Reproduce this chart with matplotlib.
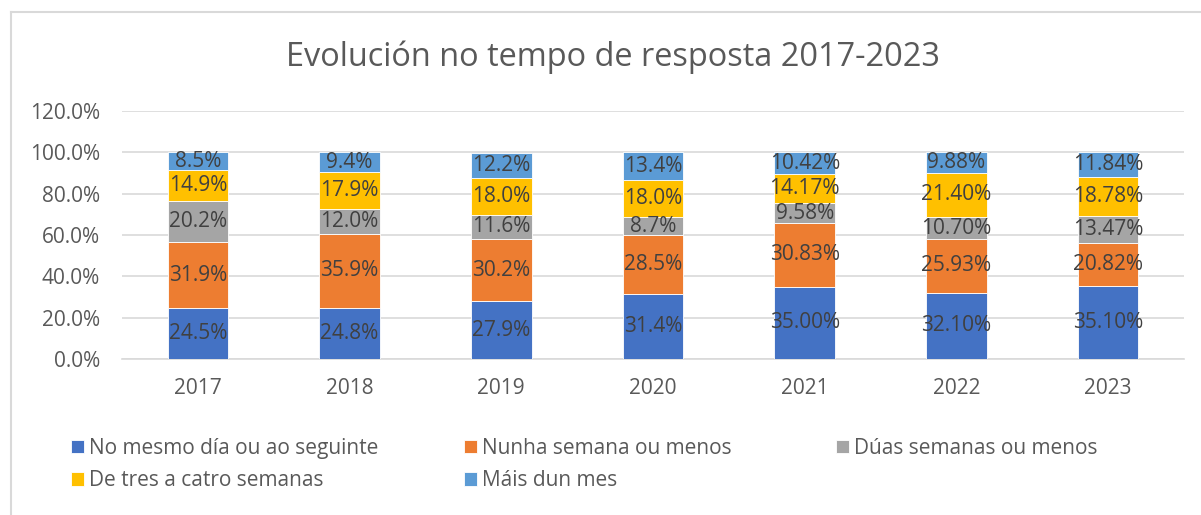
import matplotlib
matplotlib.use('Agg')
import matplotlib.pyplot as plt
from matplotlib.lines import Line2D
import numpy as np

# ---- data ----
years = ['2017', '2018', '2019', '2020', '2021', '2022', '2023']
series_names = ['No mesmo día ou ao seguinte', 'Nunha semana ou menos',
                'Dúas semanas ou menos', 'De tres a catro semanas', 'Máis dun mes']
no_mesmo_dia = [24.5, 24.8, 27.9, 31.4, 35.00, 32.10, 35.10]
nunha_semana = [31.9, 35.9, 30.2, 28.5, 30.83, 25.93, 20.82]
duas_semanas = [20.2, 12.0, 11.6, 8.7, 9.58, 10.70, 13.47]
tres_catro_semanas = [14.9, 17.9, 18.0, 18.0, 14.17, 21.40, 18.78]
mais_dun_mes = [8.5, 9.4, 12.2, 13.4, 10.42, 9.88, 11.84]
label_decimals = [1, 1, 1, 1, 2, 2, 2]
yticks = [0, 20, 40, 60, 80, 100, 120]
title = 'Evolución no tempo de resposta 2017-2023'

series_values = [no_mesmo_dia, nunha_semana, duas_semanas, tres_catro_semanas, mais_dun_mes]
colors = ['#4472C4', '#ED7D31', '#A5A5A5', '#FFC000', '#5B9BD5']

plt.rcParams['font.family'] = ['Open Sans', 'DejaVu Sans']

W, H = 1201, 515
fig = plt.figure(figsize=(W / 100, H / 100), dpi=100)
ax = fig.add_axes([122 / W, (H - 359) / H, (1184 - 122) / W, (359 - 111) / H])

x = np.arange(len(years))
bottom = np.zeros(len(years))
handles = []
for vals, name, col in zip(series_values, series_names, colors):
    bars = ax.bar(x, vals, 0.4, bottom=bottom, color=col, edgecolor='white',
                  linewidth=0.6, label=name, zorder=3)
    labels = [f"{v:.{d}f}%" for v, d in zip(vals, label_decimals)]
    ax.bar_label(bars, labels=labels, label_type='center', fontsize=15,
                 color='#404040', zorder=4)
    bottom = bottom + np.array(vals)
    handles.append(bars)

ax.set_xlim(-0.5, len(years) - 0.5)
ax.set_ylim(0, 120)
ax.set_yticks(yticks)
ax.set_yticklabels([f"{t:.1f}%" for t in yticks])
ax.set_xticks(x)
ax.set_xticklabels(years)
ax.yaxis.grid(True, color='#D9D9D9', linewidth=1.2, zorder=0)
ax.set_axisbelow(True)
for s in ['top', 'right', 'left']:
    ax.spines[s].set_visible(False)
ax.spines['bottom'].set_color('#D9D9D9')
ax.spines['bottom'].set_linewidth(1.2)
ax.tick_params(axis='both', length=0, labelsize=15, labelcolor='#595959')
ax.tick_params(axis='y', pad=16)
ax.tick_params(axis='x', pad=14)

fig.text(613 / W, 1 - 57 / H, title, ha='center', va='center', fontsize=23.4,
         color='#595959')

# chart area border
fig.add_artist(Line2D([11 / W, 11 / W], [1 - 12 / H, 0], transform=fig.transFigure,
                      color='#D9D9D9', linewidth=1.5))
fig.add_artist(Line2D([11 / W, 1], [1 - 12 / H, 1 - 12 / H], transform=fig.transFigure,
                      color='#D9D9D9', linewidth=1.5))

# legend, three columns placed like the reference
cols = [([0, 3], 71), ([1, 4], 464), ([2], 836)]
for idx, xpx in cols:
    leg = fig.legend([handles[i] for i in idx], [series_names[i] for i in idx],
                     loc='upper left', bbox_to_anchor=(xpx / W, 1 - 438 / H),
                     frameon=False, fontsize=15, labelcolor='#595959',
                     handlelength=0.6, handleheight=0.6, handletextpad=0.25,
                     borderpad=0, borderaxespad=0, labelspacing=0.54)

fig.savefig('out.png', dpi=100)
